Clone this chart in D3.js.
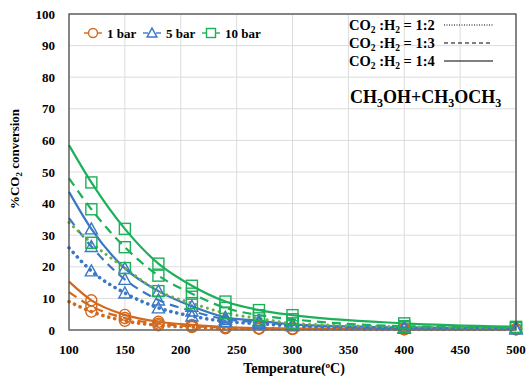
<!DOCTYPE html>
<html>
<head>
<meta charset="utf-8">
<script src="https://cdn.jsdelivr.net/npm/d3@7"></script>
<style>
body { margin: 0; background: #fff; }
text { font-family: "Liberation Serif", "Times New Roman", serif; font-weight: bold; fill: #000; }
</style>
</head>
<body>
<svg class="chart"></svg>
<script>
// temperatures where markers sit, and line start point
let temps = [120, 150, 180, 210, 240, 270, 300, 400, 500];
let xStart = 100;
let xTicks = [100, 150, 200, 250, 300, 350, 400, 450, 500];
let yTicks = [0, 10, 20, 30, 40, 50, 60, 70, 80, 90, 100];

// 1 bar
let bar1_12 = [5.8, 2.9, 1.5, 0.9, 0.5, 0.4, 0.3, 0.2, 0.2];
let bar1_13 = [7.5, 3.8, 2.0, 1.2, 0.7, 0.5, 0.35, 0.25, 0.2];
let bar1_14 = [9.4, 4.8, 2.6, 1.6, 0.9, 0.6, 0.45, 0.3, 0.3];
// 5 bar
let bar5_12 = [18.7, 11.7, 7.0, 4.4, 2.7, 2.0, 1.3, 0.5, 0.4];
let bar5_13 = [26.4, 16.0, 9.5, 6.0, 3.4, 2.5, 1.6, 0.6, 0.4];
let bar5_14 = [32.0, 19.5, 12.3, 7.5, 4.0, 2.9, 1.8, 0.8, 0.5];
// 10 bar
let bar10_12 = [27.6, 19.6, 12.3, 8.5, 5.3, 3.7, 2.1, 1.0, 0.7];
let bar10_13 = [38.2, 26.2, 17.2, 11.5, 7.0, 4.7, 3.4, 1.2, 0.8];
let bar10_14 = [46.7, 32.0, 21.0, 14.0, 9.0, 6.3, 4.7, 2.1, 1.0];
// curve values at 100 oC
let startVals = {bar1_12: 9, bar1_13: 12, bar1_14: 15.3,
                 bar5_12: 26, bar5_13: 35.4, bar5_14: 43.7,
                 bar10_12: 34, bar10_13: 48, bar10_14: 58.5};

let pressures = ["1 bar", "5 bar", "10 bar"];
let ratios = ["1:2", "1:3", "1:4"];

let margin = {top: 14, right: 10, bottom: 50, left: 69},
    width = 447,
    height = 316;

let colors = {"1 bar": "#D2691E", "5 bar": "#3B78C3", "10 bar": "#1CB05A"};
let dash = {"1:2": "0.1 6", "1:3": "9 6", "1:4": null};

let series = [
    {p: "1 bar", r: "1:2", key: "bar1_12", vals: bar1_12},
    {p: "1 bar", r: "1:3", key: "bar1_13", vals: bar1_13},
    {p: "1 bar", r: "1:4", key: "bar1_14", vals: bar1_14},
    {p: "5 bar", r: "1:2", key: "bar5_12", vals: bar5_12},
    {p: "5 bar", r: "1:3", key: "bar5_13", vals: bar5_13},
    {p: "5 bar", r: "1:4", key: "bar5_14", vals: bar5_14},
    {p: "10 bar", r: "1:2", key: "bar10_12", vals: bar10_12},
    {p: "10 bar", r: "1:3", key: "bar10_13", vals: bar10_13},
    {p: "10 bar", r: "1:4", key: "bar10_14", vals: bar10_14}
];

let svg = d3.select(".chart")
    .attr("width", 526)
    .attr("height", 380)
    .append("g")
    .attr("transform", "translate(" + margin.left + "," + margin.top + ")");

let x = d3.scaleLinear().domain([100, 500]).range([0, width]),
    y = d3.scaleLinear().domain([0, 100]).range([height, 0]);

// grid
svg.selectAll(".hgrid")
    .data(yTicks)
    .join("line")
    .attr("class", "hgrid")
    .attr("x1", 0).attr("x2", width)
    .attr("y1", d => y(d)).attr("y2", d => y(d))
    .style("stroke", "#dcdcdc");
svg.selectAll(".vgrid")
    .data(xTicks)
    .join("line")
    .attr("class", "vgrid")
    .attr("x1", d => x(d)).attr("x2", d => x(d))
    .attr("y1", 0).attr("y2", height)
    .style("stroke", "#dcdcdc");

// tick labels
svg.selectAll(".ytick")
    .data(yTicks)
    .join("text")
    .attr("class", "ytick")
    .attr("x", -14)
    .attr("y", d => y(d))
    .attr("dy", ".35em")
    .attr("text-anchor", "end")
    .attr("font-size", 13)
    .text(d => d);
svg.selectAll(".xtick")
    .data(xTicks)
    .join("text")
    .attr("class", "xtick")
    .attr("x", d => x(d))
    .attr("y", height + 24)
    .attr("text-anchor", "middle")
    .attr("font-size", 13)
    .text(d => d);

// lines
let line = d3.line()
    .x(d => x(d[0]))
    .y(d => y(d[1]))
    .curve(d3.curveMonotoneX);

series.forEach(function(s) {
    let pts = [[xStart, startVals[s.key]]].concat(temps.map((t, i) => [t, s.vals[i]]));
    let col = colors[s.p];
    if (s.p == "10 bar" && s.r == "1:2") col = "#70AD47";
    svg.append("path")
        .datum(pts)
        .attr("d", line)
        .style("fill", "none")
        .style("stroke", col)
        .style("stroke-width", s.r == "1:2" ? (s.p == "10 bar" ? 3 : 3.6) : 2.2)
        .style("stroke-linecap", s.r == "1:2" ? "round" : "butt")
        .style("stroke-dasharray", dash[s.r]);
});

// markers
function marker(g, p, cx, cy, sz) {
    let col = colors[p];
    if (p == "1 bar") {
        g.append("circle").attr("cx", cx).attr("cy", cy).attr("r", sz / 2)
            .style("fill", "none").style("stroke", col).style("stroke-width", 1.4);
    } else if (p == "5 bar") {
        let h = sz;
        g.append("path")
            .attr("d", "M" + cx + "," + (cy - h * 0.55) + "L" + (cx + h * 0.55) + "," + (cy + h * 0.45) +
                "L" + (cx - h * 0.55) + "," + (cy + h * 0.45) + "Z")
            .style("fill", "none").style("stroke", col).style("stroke-width", 1.4);
    } else {
        g.append("rect").attr("x", cx - sz / 2).attr("y", cy - sz / 2)
            .attr("width", sz).attr("height", sz)
            .style("fill", "none").style("stroke", col).style("stroke-width", 1.4);
    }
}

let mk = svg.append("g");
series.forEach(function(s) {
    temps.forEach(function(t, i) {
        marker(mk, s.p, x(t), y(s.vals[i]), 11);
    });
});

// frame
svg.append("rect")
    .attr("width", width)
    .attr("height", height)
    .style("fill", "none")
    .style("stroke", "#404040")
    .style("stroke-width", 1.2);
svg.append("line")
    .attr("x1", 0).attr("x2", width)
    .attr("y1", height).attr("y2", height)
    .style("stroke", "#8c8c8c")
    .style("stroke-width", 1.2);

// pressure legend
let leg = svg.append("g").attr("transform", "translate(15,19)");
let legX = [0, 59, 118];
pressures.forEach(function(p, i) {
    let g = leg.append("g").attr("transform", "translate(" + legX[i] + ",0)");
    g.append("line").attr("x1", 0).attr("x2", 5).style("stroke", colors[p]).style("stroke-width", 1.4);
    g.append("line").attr("x1", 13).attr("x2", 18).style("stroke", colors[p]).style("stroke-width", 1.4);
    marker(g, p, 9, 0, 9);
    g.append("text").attr("x", 23).attr("dy", ".35em").attr("font-size", 13).text(p);
});

// ratio legend
let rleg = svg.append("g").attr("transform", "translate(280,0)");
ratios.forEach(function(r, i) {
    let yy = 16 + i * 18;
    let t = rleg.append("text").attr("x", 0).attr("y", yy).attr("font-size", 14.5);
    t.append("tspan").text("CO");
    t.append("tspan").attr("font-size", 9.5).attr("dy", 3).text("2");
    t.append("tspan").attr("dy", -3).text(" :H");
    t.append("tspan").attr("font-size", 9.5).attr("dy", 3).text("2");
    t.append("tspan").attr("dy", -3).text(" = " + r);
    rleg.append("line")
        .attr("x1", 95).attr("x2", 144)
        .attr("y1", yy - 5).attr("y2", yy - 5)
        .style("stroke", "#000")
        .style("stroke-width", r == "1:4" ? 1.2 : 1)
        .style("stroke-dasharray", r == "1:2" ? "1 1.5" : (r == "1:3" ? "4 3" : null));
});

// species label
let sp = svg.append("text").attr("x", 281).attr("y", 89).attr("font-size", 18);
[["CH", 0], ["3", 1], ["OH+CH", 0], ["3", 1], ["OCH", 0], ["3", 1]].forEach(function(d, i) {
    let ts = sp.append("tspan").text(d[0]);
    if (d[1]) ts.attr("font-size", 12).attr("dy", 4);
    else if (i > 0) ts.attr("dy", -4);
});

// axis titles
let xt = svg.append("text")
    .attr("x", 225)
    .attr("y", height + 43)
    .attr("text-anchor", "middle")
    .attr("font-size", 14);
xt.append("tspan").text("Temperature(");
xt.append("tspan").attr("font-size", 9).attr("dy", -5).text("o");
xt.append("tspan").attr("dy", 5).text("C)");

let yt = svg.append("text")
    .attr("transform", "translate(-50," + (height / 2 - 13) + ")rotate(-90)")
    .attr("text-anchor", "middle")
    .attr("font-size", 13);
yt.append("tspan").text("%CO");
yt.append("tspan").attr("font-size", 9).attr("dy", 3).text("2");
yt.append("tspan").attr("dy", -3).text(" conversion");
</script>
</body>
</html>
